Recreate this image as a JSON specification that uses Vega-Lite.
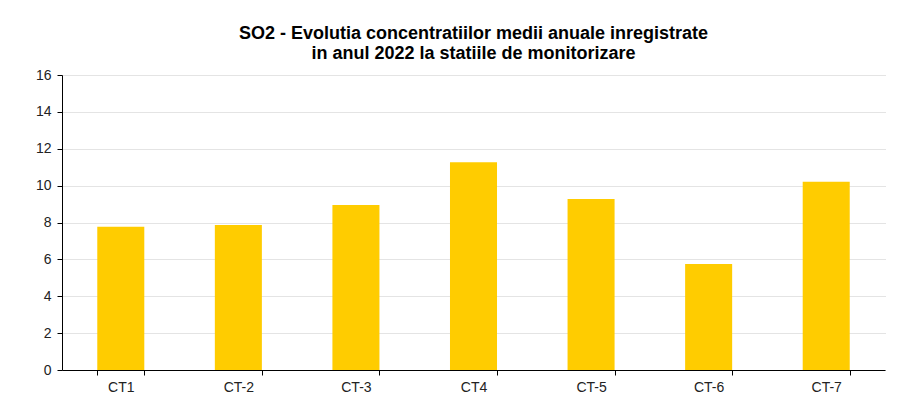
{
  "$schema": "https://vega.github.io/schema/vega-lite/v6.json",
  "autosize": "none",
  "width": 823,
  "height": 295,
  "padding": {"left": 62, "top": 75, "right": 15, "bottom": 35},
  "background": "white",
  "title": {
    "text": ["SO2 - Evolutia concentratiilor medii anuale inregistrate", "in anul 2022 la statiile de monitorizare"],
    "font": "Liberation Sans",
    "fontSize": 18,
    "fontWeight": "bold",
    "color": "#000000",
    "lineHeight": 20,
    "anchor": "middle",
    "offset": 5
  },
  "data": {
    "values": [
      {"statie": "CT1", "valoare": 7.77},
      {"statie": "CT-2", "valoare": 7.86},
      {"statie": "CT-3", "valoare": 8.95},
      {"statie": "CT4", "valoare": 11.27},
      {"statie": "CT-5", "valoare": 9.27},
      {"statie": "CT-6", "valoare": 5.75},
      {"statie": "CT-7", "valoare": 10.21}
    ]
  },
  "mark": {"type": "bar", "color": "#FFCC00"},
  "encoding": {
    "x": {
      "field": "statie",
      "type": "nominal",
      "sort": null,
      "title": null,
      "scale": {"paddingInner": 0.6, "paddingOuter": 0.3},
      "axis": {
        "labelAngle": 0,
        "labelFont": "Liberation Sans",
        "labelFontSize": 14,
        "labelColor": "#222222",
        "labelPadding": 5,
        "domainColor": "#000000",
        "tickColor": "#000000",
        "tickSize": 5,
        "tickBand": "extent",
        "grid": false
      }
    },
    "y": {
      "field": "valoare",
      "type": "quantitative",
      "title": null,
      "scale": {"domain": [0, 16], "nice": false},
      "axis": {
        "values": [0, 2, 4, 6, 8, 10, 12, 14, 16],
        "labelFont": "Liberation Sans",
        "labelFontSize": 14,
        "labelColor": "#222222",
        "labelPadding": 6,
        "domainColor": "#000000",
        "tickColor": "#000000",
        "tickSize": 5,
        "grid": true,
        "gridColor": "#c8c8c8",
        "gridDash": [1, 1]
      }
    }
  },
  "config": {"view": {"stroke": null}}
}
